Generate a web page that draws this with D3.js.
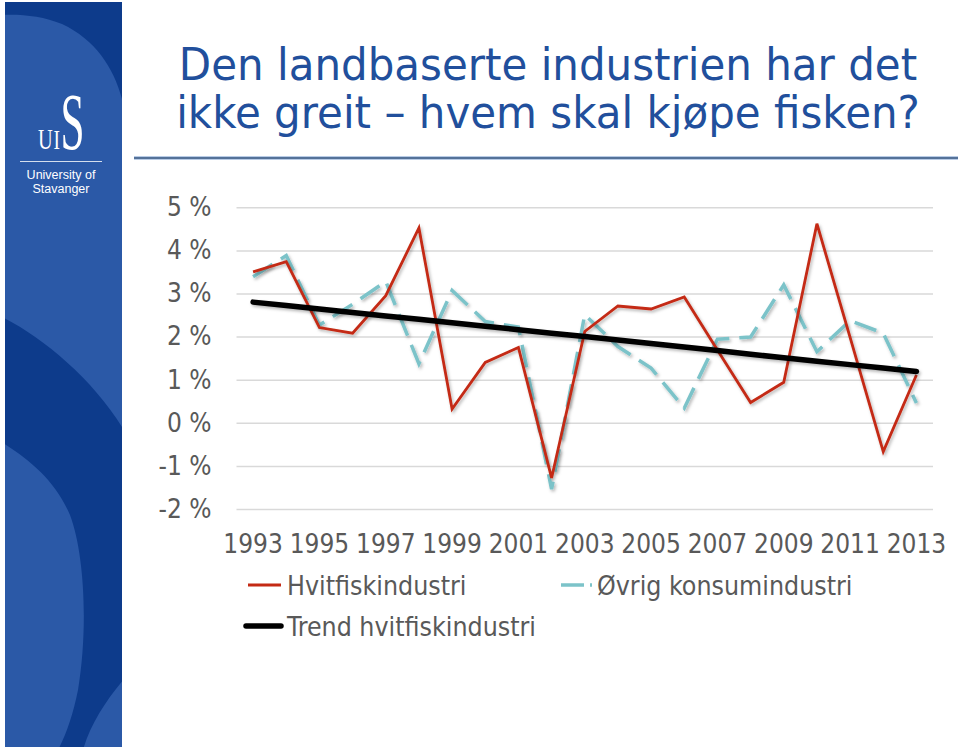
<!DOCTYPE html>
<html><head><meta charset="utf-8">
<script src="https://cdn.jsdelivr.net/npm/d3@7"></script>
<style>
html,body{margin:0;padding:0;background:#fff;}
svg{display:block;}
.chart text{font-family:'DejaVu Sans Condensed','DejaVu Sans',sans-serif;font-stretch:condensed;fill:#595959;}
</style></head><body>
<svg id="c" width="960" height="748"></svg>
<script>
const years = ['1993','1994','1995','1996','1997','1998','1999','2000','2001','2002','2003',
               '2004','2005','2006','2007','2008','2009','2010','2011','2012','2013'];
const xTickLabels = ['1993','1995','1997','1999','2001','2003','2005','2007','2009','2011','2013'];
const yTickValues = [-2,-1,0,1,2,3,4,5];
const hvitfisk = [3.50,3.74,2.21,2.08,2.95,4.52,0.32,1.40,1.75,-1.28,2.12,2.71,2.64,2.92,1.69,0.47,0.94,4.62,1.98,-0.67,1.11];
const ovrig    = [3.39,3.88,2.27,2.75,3.28,1.37,3.07,2.35,2.22,-1.54,2.51,1.77,1.27,0.34,1.94,1.99,3.20,1.65,2.37,2.08,0.46];
const trend    = [2.80,2.72,2.64,2.56,2.48,2.40,2.32,2.24,2.16,2.08,2.00,1.92,1.84,1.76,1.68,1.59,1.51,1.43,1.35,1.27,1.19];
const seriesNames = ['Hvitfiskindustri','Øvrig konsumindustri','Trend hvitfiskindustri'];
const titleLines = ['Den landbaserte industrien har det','ikke greit – hvem skal kjøpe fisken?'];

const svg = d3.select('#c');
const defs = svg.append('defs');
const f = defs.append('filter').attr('id','sh').attr('x','-5%').attr('y','-10%').attr('width','115%').attr('height','125%');
f.append('feDropShadow').attr('dx',1.5).attr('dy',2).attr('stdDeviation',1.6).attr('flood-color','#000').attr('flood-opacity',0.28);

// ---- sidebar
const side = svg.append('g');
defs.append('clipPath').attr('id','pc').append('rect').attr('x',5).attr('y',2).attr('width',117).attr('height',745);
side.append('rect').attr('x',5).attr('y',2).attr('width',117).attr('height',745).attr('fill','#2b59a7');
const sg = side.append('g').attr('clip-path','url(#pc)');
sg.append('path').attr('fill','#0d3b8b')
  .attr('d','M0,0 L125,0 L125,112 C118,75 100,42 62,24 C42,16 22,14 0,15 Z');
sg.append('path').attr('fill','#0d3b8b')
  .attr('d','M0,316 C40,335 95,380 125,432 L125,678 C106,700 90,725 83,750 L58,750 C66,735 73,715 78,690 C88,630 85,555 70,515 C55,480 30,460 0,441 Z');
// logo
side.append('text').text('S').attr('transform','translate(72.5,149) scale(0.54,1)')
  .attr('text-anchor','middle').attr('font-family','Liberation Serif, serif').attr('font-size',80).attr('fill','#fff');
side.append('text').text('U').attr('transform','translate(38,149) scale(0.68,1)')
  .attr('font-family','Liberation Serif, serif').attr('font-size',30).attr('fill','#fff');
side.append('text').text('I').attr('transform','translate(53.5,149) scale(0.72,1)')
  .attr('font-family','Liberation Serif, serif').attr('font-size',27).attr('fill','#fff');
side.append('line').attr('x1',20).attr('x2',102).attr('y1',161.5).attr('y2',161.5).attr('stroke','#fff').attr('stroke-opacity',0.8).attr('stroke-width',1);
side.append('text').text('University of').attr('x',61).attr('y',178.5).attr('text-anchor','middle')
  .attr('font-family','Liberation Sans, Arial, sans-serif').attr('font-size',12.5).attr('fill','#fff');
side.append('text').text('Stavanger').attr('x',61).attr('y',193).attr('text-anchor','middle')
  .attr('font-family','Liberation Sans, Arial, sans-serif').attr('font-size',12.5).attr('fill','#fff');

// ---- title
titleLines.forEach((t,i)=>{
  svg.append('text').text(t).attr('transform',`translate(548,${80+i*48}) scale(1,1.06)`)
    .attr('text-anchor','middle').attr('font-family','DejaVu Sans, sans-serif').attr('font-size',42).attr('fill','#214f9c');
});
svg.append('line').attr('x1',134).attr('x2',958).attr('y1',158).attr('y2',158).attr('stroke','#b9cce6').attr('stroke-width',4);
svg.append('line').attr('x1',134).attr('x2',958).attr('y1',158).attr('y2',158).attr('stroke','#34557f').attr('stroke-width',1.6);

// ---- chart
const chart = svg.append('g').attr('class','chart');
const x = d3.scaleBand().domain(years).range([236.5,933]);
const xc = d => x(d) + x.bandwidth()/2;
const y = d3.scaleLinear().domain([-2,5]).range([509,207.3]);

const ya = chart.append('g').attr('transform','translate(236.5,0)')
  .call(d3.axisLeft(y).tickValues(yTickValues).tickSize(-(933-236.5)).tickPadding(25).tickFormat(d=>d+' %'));
ya.select('.domain').remove();
ya.selectAll('line').attr('stroke','#d9d9d9').attr('stroke-width',1.5);
ya.selectAll('text').attr('font-size',26).attr('fill','#595959');

const xa = chart.append('g').attr('transform','translate(0,509)')
  .call(d3.axisBottom(x).tickValues(xTickLabels).tickSize(0).tickPadding(25.5));
xa.select('.domain').remove();
xa.selectAll('text').attr('font-size',26).attr('fill','#595959');

const line = d3.line().x((d,i)=>xc(years[i])).y(d=>y(d));
chart.append('path').datum(ovrig).attr('d',line).attr('fill','none')
  .attr('stroke','#7cc3c9').attr('stroke-width',3.5).attr('stroke-dasharray','23,10').attr('filter','url(#sh)');
chart.append('path').datum(hvitfisk).attr('d',line).attr('fill','none')
  .attr('stroke','#c42a14').attr('stroke-width',2.8).attr('stroke-linejoin','miter').attr('filter','url(#sh)');
chart.append('path').datum(trend).attr('d',line).attr('fill','none')
  .attr('stroke','#000').attr('stroke-width',5.5).attr('stroke-linecap','round').attr('filter','url(#sh)');

// ---- legend
const lg = chart.append('g');
const legendItems = [
  {name:seriesNames[0], x1:248, x2:281, y:585, tx:287, color:'#c42a14', w:3.2, dash:null, cap:'butt'},
  {name:seriesNames[1], x1:561, x2:592, y:585, tx:597, color:'#7cc3c9', w:3.5, dash:'23,6', cap:'butt'},
  {name:seriesNames[2], x1:246, x2:281, y:626, tx:287, color:'#000', w:5.5, dash:null, cap:'round'}
];
legendItems.forEach(d=>{
  lg.append('line').attr('x1',d.x1).attr('x2',d.x2).attr('y1',d.y).attr('y2',d.y)
    .attr('stroke',d.color).attr('stroke-width',d.w).attr('stroke-dasharray',d.dash).attr('stroke-linecap',d.cap);
  lg.append('text').text(d.name).attr('x',d.tx).attr('y',d.y+10).attr('font-size',26.5);
});
</script>
</body></html>
